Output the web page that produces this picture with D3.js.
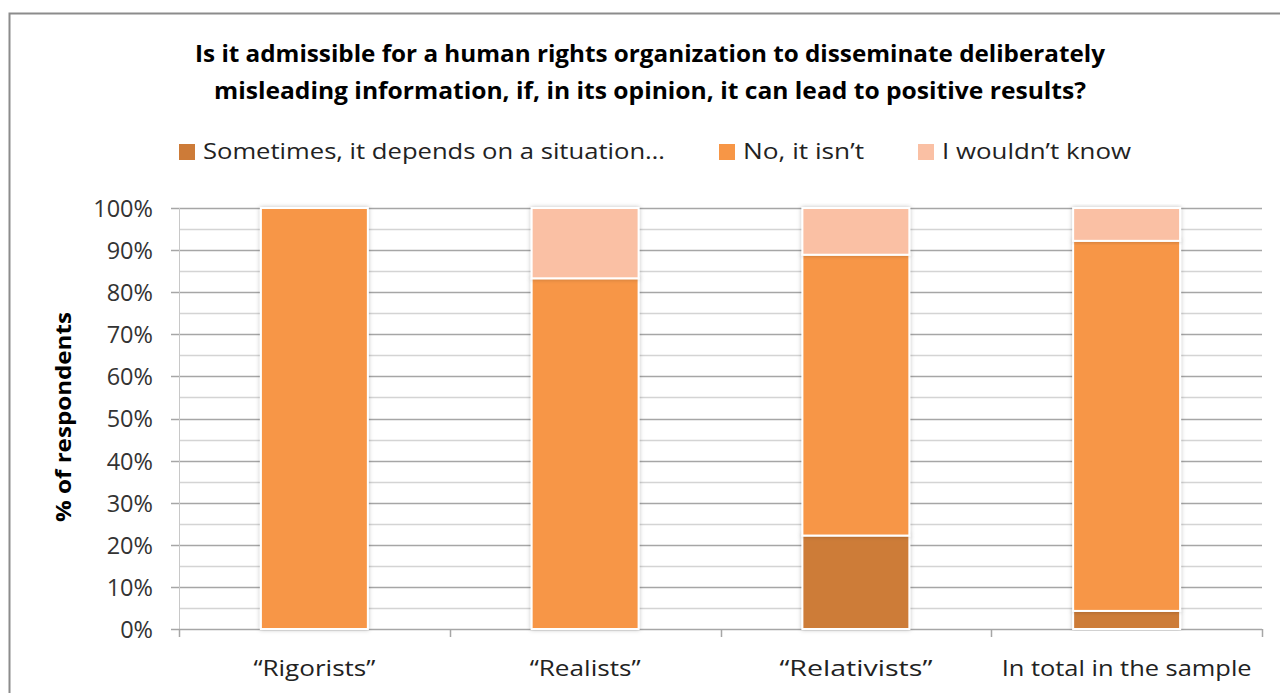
<!DOCTYPE html>
<html><head><meta charset="utf-8">
<script src="https://cdn.jsdelivr.net/npm/d3@7"></script>
<style>body{margin:0;background:#fff}svg{display:block}</style>
</head><body>
<svg id="c" width="1280" height="693"></svg>
<script>
const categories = ["\u201cRigorists\u201d", "\u201cRealists\u201d", "\u201cRelativists\u201d", "In total in the sample"];
const seriesNames = ["Sometimes, it depends on a situation\u2026", "No, it isn\u2019t", "I wouldn\u2019t know"];
const sometimes = [0, 0, 22.2, 4.3];
const noItIsnt = [100, 83.3, 66.7, 87.9];
const wouldntKnow = [0, 16.7, 11.1, 7.8];
const yTicks = [0,10,20,30,40,50,60,70,80,90,100];
const colors = ["#CD7B38", "#F79646", "#FAC0A4"];

const svg = d3.select("#c");
const font = "'Open Sans', sans-serif";
const L = 179, R = 1262, T = 208, B = 629;

svg.append("rect").attr("x",9.5).attr("y",13.5).attr("width",1290).attr("height",700)
  .attr("fill","#fff").attr("stroke","#8c8c8c").attr("stroke-width",2);

const defs = svg.append("defs");
const f = defs.append("filter").attr("id","sh").attr("x","-10%").attr("y","-10%").attr("width","120%").attr("height","120%");
f.append("feDropShadow").attr("dx",0).attr("dy",0).attr("stdDeviation",2).attr("flood-color","#000").attr("flood-opacity",0.25);

// title
const title = ["Is it admissible for a human rights organization to disseminate deliberately",
  "misleading information, if, in its opinion, it can lead to positive results?"];
const tw = [910, 872];
title.forEach((t,i)=>{
  svg.append("text").attr("x",650).attr("y",62+i*37).attr("text-anchor","middle")
    .attr("font-family","'Liberation Sans Narrow', 'Open Sans', sans-serif").attr("font-weight","bold").attr("font-size",23)
    .attr("textLength",tw[i]).attr("lengthAdjust","spacingAndGlyphs").attr("fill","#000").text(t);
});

const x = d3.scaleBand().domain(categories).range([L,R]).paddingInner(0).paddingOuter(0);
const y = d3.scaleLinear().domain([0,100]).range([B,T]);

// gridlines minor/major
const minor = d3.range(5,100,10);
svg.append("g").selectAll("line").data(minor).join("line")
  .attr("x1",L).attr("x2",R).attr("y1",d=>Math.round(y(d))+0.5).attr("y2",d=>Math.round(y(d))+0.5)
  .attr("stroke","#d4d4d4").attr("stroke-width",1.5);
svg.append("g").selectAll("line").data(yTicks.filter(d=>d>0)).join("line")
  .attr("x1",L-8).attr("x2",R).attr("y1",d=>Math.round(y(d))+0.5).attr("y2",d=>Math.round(y(d))+0.5)
  .attr("stroke","#a6a6a6").attr("stroke-width",1.5);

// y axis line
svg.append("line").attr("x1",L+0.5).attr("x2",L+0.5).attr("y1",T).attr("y2",B+8).attr("stroke","#c8c8c8").attr("stroke-width",1);
// x axis
const xAxis = d3.axisBottom(x).tickSize(0).tickFormat("");
const gx = svg.append("g").attr("transform",`translate(0,${B+0.5})`).call(xAxis);
gx.select(".domain").attr("stroke","#a6a6a6").attr("stroke-width",1.5).attr("d",`M${L-8},0H${R}`);
const bounds = categories.map(c=>x(c)).concat([R]);
svg.append("g").selectAll("line").data(bounds).join("line")
  .attr("x1",d=>Math.round(d)+0.5).attr("x2",d=>Math.round(d)+0.5).attr("y1",B).attr("y2",B+8)
  .attr("stroke","#a6a6a6").attr("stroke-width",1.5);

// y tick labels
const yAxis = d3.axisLeft(y).tickValues(yTicks).tickFormat(d=>d+"%").tickSize(0).tickPadding(26);
const gy = svg.append("g").attr("transform",`translate(${L},0)`).call(yAxis);
gy.select(".domain").remove();
gy.selectAll("text").attr("font-family",font).attr("font-size",23.5).attr("fill","#333").attr("dy","0.36em");

// x labels
const xw = [122, 111, 153, 250];
categories.forEach((c,i)=>{
  svg.append("text").attr("x",x(c)+x.bandwidth()/2).attr("y",676).attr("text-anchor","middle")
    .attr("font-family",font).attr("font-size",22.5).attr("fill","#222")
    .attr("textLength",xw[i]).attr("lengthAdjust","spacingAndGlyphs").text(c);
});

// y title
svg.append("text").attr("transform",`translate(71,417) rotate(-90)`).attr("text-anchor","middle")
  .attr("font-family",font).attr("font-weight","bold").attr("font-size",21).attr("fill","#000")
  .attr("textLength",210).attr("lengthAdjust","spacingAndGlyphs").text("% of respondents");

// bars
const data = categories.map((c,i)=>({cat:c, s0:sometimes[i], s1:noItIsnt[i], s2:wouldntKnow[i]}));
const stack = d3.stack().keys(["s0","s1","s2"])(data);
const bw = x.bandwidth()*0.395;
const gb = svg.append("g");
stack.forEach((layer,k)=>{
  gb.selectAll(null).data(layer.filter(d=>d[1]-d[0]>0)).join("rect")
    .attr("x",d=>x(d.data.cat)+(x.bandwidth()-bw)/2).attr("width",bw)
    .attr("y",d=>y(d[1])).attr("height",d=>y(d[0])-y(d[1]))
    .attr("fill",colors[k]).attr("stroke","#fff").attr("stroke-width",2)
    .attr("filter","url(#sh)");
});

// legend
const legX = [179, 719, 918];
const legW = [462, 121, 189];
seriesNames.forEach((n,i)=>{
  svg.append("rect").attr("x",legX[i]).attr("y",144).attr("width",16).attr("height",16).attr("fill",colors[i]);
  svg.append("text").attr("x",legX[i]+24).attr("y",159).attr("font-family",font).attr("font-size",22.5).attr("fill","#222")
    .attr("textLength",legW[i]).attr("lengthAdjust","spacingAndGlyphs").text(n);
});
</script>
</body></html>
